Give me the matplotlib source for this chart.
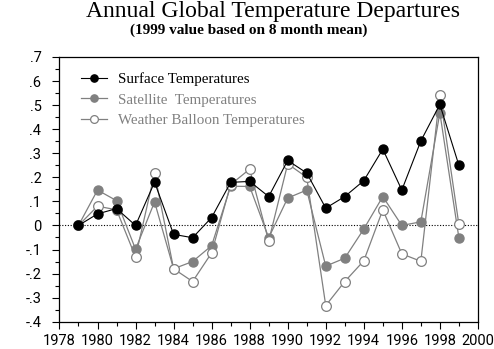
import matplotlib
matplotlib.use("Agg")
import matplotlib.pyplot as plt
from matplotlib.ticker import MultipleLocator, FixedLocator, FixedFormatter

years = list(range(1979, 2000))
surface = [0.0, 0.048, 0.07, 0.0, 0.18, -0.037, -0.051, 0.033, 0.179, 0.183, 0.12,
           0.27, 0.218, 0.072, 0.12, 0.186, 0.317, 0.147, 0.351, 0.503, 0.25]
satellite = [0.0, 0.147, 0.103, -0.099, 0.098, -0.18, -0.15, -0.084, 0.163, 0.162, -0.051,
             0.114, 0.147, -0.169, -0.136, -0.015, 0.12, 0.0, 0.015, 0.468, -0.051]
balloon = [0.0, 0.08, 0.065, -0.131, 0.218, -0.18, -0.233, -0.114, 0.17, 0.234, -0.065,
           0.256, 0.2, -0.333, -0.233, -0.147, 0.065, -0.118, -0.149, 0.544, 0.004]

title = "Annual Global Temperature Departures"
subtitle = "(1999 value based on 8 month mean)"
labels = ["Surface Temperatures", "Satellite  Temperatures", "Weather Balloon Temperatures"]
yticks = [-0.4, -0.3, -0.2, -0.1, 0.0, 0.1, 0.2, 0.3, 0.4, 0.5, 0.6, 0.7]
ytick_labels = ["-.4", "-.3", "-.2", "-.1", "0", ".1", ".2", ".3", ".4", ".5", ".6", ".7"]
xticks = list(range(1978, 2001, 2))

grey = "#808080"

fig = plt.figure(figsize=(4.94, 3.49), dpi=100)
ax = fig.add_axes([0.1204, 0.0782, 0.847, 0.7585])

ax.axhline(0, color="black", lw=0.8, ls=(0, (1, 1.5)), zorder=1)

ax.plot(years, satellite, color=grey, lw=0.9, marker="o", ms=6.5,
        mfc=grey, mec=grey, zorder=2, label=labels[1])
ax.plot(years, balloon, color=grey, lw=0.9, marker="o", ms=7,
        mfc="white", mec=grey, mew=0.9, zorder=3, label=labels[2])
ax.plot(years, surface, color="black", lw=0.8, marker="o", ms=6.5,
        mfc="black", mec="black", zorder=4, label=labels[0])

ax.set_xlim(1978, 2000)
ax.set_ylim(-0.4, 0.7)
ax.xaxis.set_major_locator(FixedLocator(xticks))
ax.xaxis.set_minor_locator(MultipleLocator(1))
ax.yaxis.set_major_locator(FixedLocator(yticks))
ax.yaxis.set_major_formatter(FixedFormatter(ytick_labels))
ax.yaxis.set_minor_locator(MultipleLocator(0.05))

for lab in ax.get_xticklabels() + ax.get_yticklabels():
    lab.set_fontfamily("Roboto")
    lab.set_fontsize(10.5)
    lab.set_fontweight("normal")
    lab.set_color("black")

ax.tick_params(axis="x", which="major", direction="out", length=5, width=0.8, pad=4)
ax.tick_params(axis="y", which="major", direction="out", length=5, width=0.8, pad=8)
ax.tick_params(axis="both", which="minor", direction="out", length=3, width=0.8)
for s in ax.spines.values():
    s.set_linewidth(0.9)

handles, labs = ax.get_legend_handles_labels()
order = [2, 0, 1]
leg = ax.legend([handles[i] for i in order], [labs[i] for i in order],
                loc="upper left", bbox_to_anchor=(0.03, 0.977), frameon=False,
                prop={"family": "Liberation Serif", "size": 10.8},
                markerscale=0.8, handlelength=1.7, handletextpad=0.75,
                labelspacing=0.48, borderaxespad=0.2)
for t, c in zip(leg.get_texts(), ["black", grey, grey]):
    t.set_color(c)

fig.text(0.553, 0.966, title, ha="center", va="center",
         family="Liberation Serif", fontsize=17)
fig.text(0.504, 0.914, subtitle, ha="center", va="center",
         family="Liberation Serif", fontsize=11, fontweight="bold")

fig.savefig("out.png", dpi=100)
